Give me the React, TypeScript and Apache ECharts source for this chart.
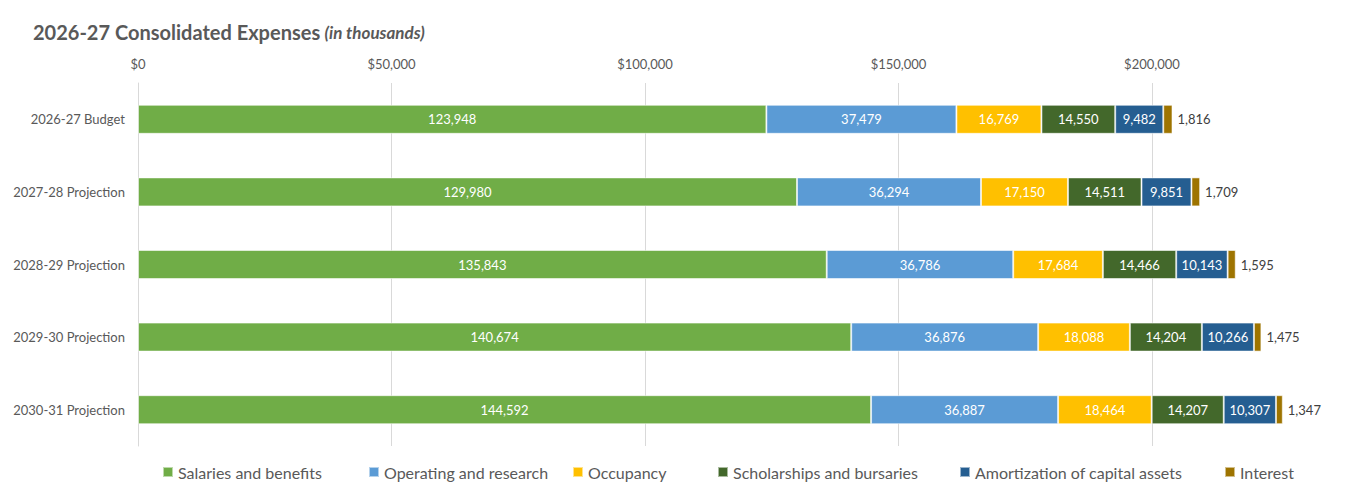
import React, { useEffect, useRef } from "react";
import * as echarts from "echarts";

const categories = [
  "2026-27 Budget",
  "2027-28 Projection",
  "2028-29 Projection",
  "2029-30 Projection",
  "2030-31 Projection",
];
const salaries = [123948, 129980, 135843, 140674, 144592];
const operating = [37479, 36294, 36786, 36876, 36887];
const occupancy = [16769, 17150, 17684, 18088, 18464];
const scholarships = [14550, 14511, 14466, 14204, 14207];
const amortization = [9482, 9851, 10143, 10266, 10307];
const interest = [1816, 1709, 1595, 1475, 1347];

const seriesNames = [
  "Salaries and benefits",
  "Operating and research",
  "Occupancy",
  "Scholarships and bursaries",
  "Amortization of capital assets",
  "Interest",
];
const seriesData = [salaries, operating, occupancy, scholarships, amortization, interest];
const colors = ["#70AD47", "#5B9BD5", "#FFC000", "#43682B", "#255E91", "#9E7400"];
const legendLefts = [149, 355, 559, 704, 946, 1211];

const FONT = "Lato, 'Noto Sans', sans-serif";
const fmt = (v: number) => v.toLocaleString("en-US");

export default function App() {
  const ref = useRef<HTMLDivElement>(null);
  useEffect(() => {
    if (!ref.current) return;
    const chart = echarts.init(ref.current, undefined, { renderer: "svg" });
    chart.setOption({
      animation: false,
      textStyle: { fontFamily: FONT },
      title: {
        text: "{b|2026-27 Consolidated Expenses} {i|(in thousands)}",
        left: 20,
        top: 9,
        textStyle: {
          rich: {
            b: { fontSize: 20, fontWeight: "bold", color: "#595959", fontFamily: FONT },
            i: { fontSize: 17, fontWeight: "bold", fontStyle: "italic", color: "#595959", fontFamily: FONT },
          },
        },
      },
      legend: seriesNames.map((name, i) => ({
        top: 451,
        left: legendLefts[i],
        itemWidth: 10,
        itemHeight: 10,
        icon: "rect",
        textStyle: { fontSize: 16, color: "#595959", fontFamily: FONT },
        data: [name],
      })),
      grid: { left: 130, top: 75, right: 11.5, bottom: 54, containLabel: false },
      xAxis: {
        type: "value",
        position: "top",
        min: 0,
        max: 236000,
        interval: 50000,
        axisLine: { show: false },
        axisTick: { show: false },
        axisLabel: {
          showMaxLabel: false,
          margin: 13,
          fontSize: 13,
          color: "#595959",
          fontFamily: FONT,
          formatter: (v: number) => (v % 50000 === 0 ? "$" + fmt(v) : ""),
        },
        splitLine: { show: true, showMaxLine: false, lineStyle: { color: "#D9D9D9", width: 1 } },
      },
      yAxis: {
        type: "category",
        inverse: true,
        data: categories,
        axisLine: { show: true, lineStyle: { color: "#D9D9D9" } },
        axisTick: { show: false },
        axisLabel: { margin: 13, fontSize: 13, color: "#595959", fontFamily: FONT },
      },
      series: seriesNames.map((name, i) => ({
        name,
        type: "bar",
        stack: "total",
        barWidth: 29,
        data: seriesData[i],
        itemStyle: {
          color: colors[i],
          borderColor: "rgba(255,255,255,0.55)",
          borderWidth: 1,
        },
        label:
          i < 5
            ? {
                show: true,
                position: "inside",
                color: "#FFFFFF",
                fontSize: 13,
                fontFamily: FONT,
                formatter: (p: any) => fmt(p.value),
              }
            : {
                show: true,
                position: "right",
                distance: 5,
                color: "#404040",
                fontSize: 13,
                fontFamily: FONT,
                formatter: (p: any) => fmt(p.value),
              },
      })),
    });
    return () => chart.dispose();
  }, []);
  return (
    <div
      ref={ref}
      style={{ width: 1338, height: 492, border: "1px solid #D9D9D9", margin: "-1px 0 0 -1px" }}
    />
  );
}
